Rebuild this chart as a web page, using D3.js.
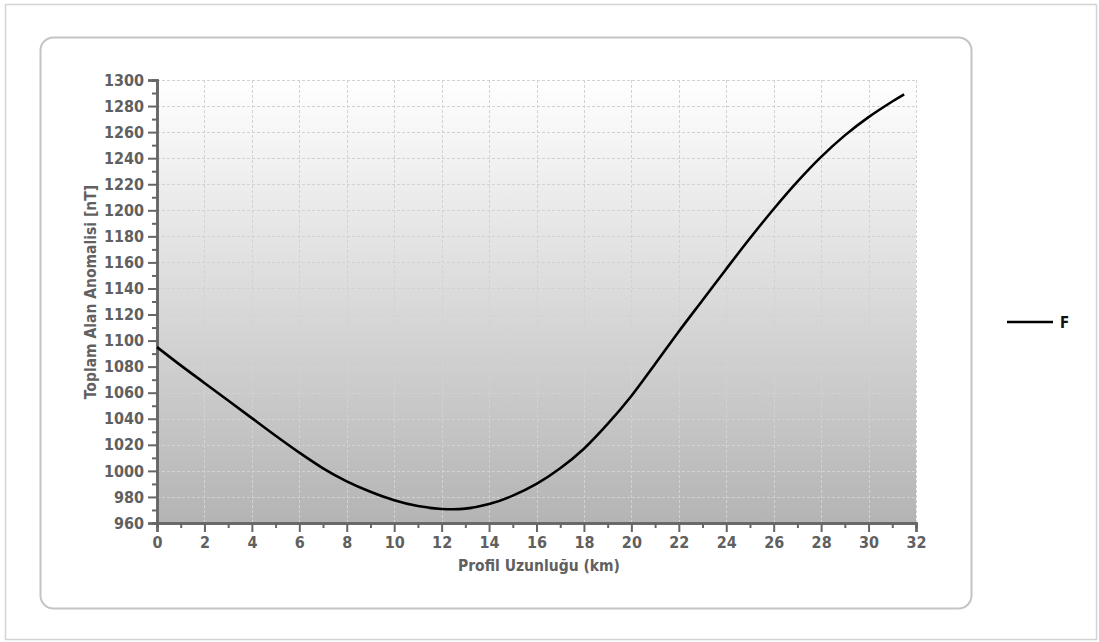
<!DOCTYPE html>
<html>
<head>
<meta charset="utf-8">
<script src="https://cdn.jsdelivr.net/npm/d3@7"></script>
<style>
  body { margin: 0; background: #fff; }
  svg { display: block; }
</style>
</head>
<body>
<svg id="chart" width="1099" height="642"></svg>
<script>
// profile distance (km) and total field anomaly (nT)
var distance = [0, 1, 2, 3, 4, 5, 6, 7, 8, 9, 10, 11, 12, 13, 14, 15, 16,
                17, 18, 19, 20, 21, 22, 23, 24, 25, 26, 27, 28, 29, 30, 31, 31.5];
var anomalyF = [1095, 1081, 1067.5, 1054, 1040.5, 1027, 1014, 1002, 992, 984, 977.5, 973, 970.8, 971, 974.5, 981, 990,
                1002, 1017, 1036, 1057.5, 1082, 1107, 1131, 1155, 1178.5, 1201, 1222, 1241, 1257.5, 1271.5, 1283.5, 1289];
var xTicks = d3.range(0, 33, 2);
var yTicks = d3.range(960, 1301, 20);
var seriesName = "F";
var xTitle = "Profil Uzunluğu (km)";
var yTitle = "Toplam Alan Anomalisi [nT]";

var svg = d3.select("#chart");
var fontFam = "'Liberation Sans Narrow', 'DejaVu Sans Condensed', 'DejaVu Sans', sans-serif";

// outer frame
svg.append("rect")
  .attr("x", 5.5).attr("y", 4.5)
  .attr("width", 1091).attr("height", 635)
  .style("fill", "#fff")
  .style("stroke", "#d4d4d4")
  .style("stroke-width", 1.5);

// rounded panel
svg.append("rect")
  .attr("x", 40.5).attr("y", 37.5)
  .attr("width", 931).attr("height", 571)
  .attr("rx", 13)
  .style("fill", "#fff")
  .style("stroke", "#c4c4c4")
  .style("stroke-width", 2);

var plotLeft = 157, plotRight = 916, plotTop = 80, plotBottom = 523;

var x = d3.scaleLinear().domain([0, 32]).range([plotLeft, plotRight]);
var y = d3.scaleLinear().domain([960, 1300]).range([plotBottom, plotTop]);

// plot background gradient
var defs = svg.append("defs");
var grad = defs.append("linearGradient")
  .attr("id", "plotBg")
  .attr("x1", 0).attr("y1", 0).attr("x2", 0).attr("y2", 1);
grad.append("stop").attr("offset", "0%").attr("stop-color", "#ffffff");
grad.append("stop").attr("offset", "100%").attr("stop-color", "#b4b4b4");

svg.append("rect")
  .attr("x", plotLeft).attr("y", plotTop)
  .attr("width", plotRight - plotLeft).attr("height", plotBottom - plotTop)
  .style("fill", "url(#plotBg)");

// grid
var grid = svg.append("g").attr("class", "grid");
grid.selectAll("line.vg")
  .data(xTicks.slice(1))
  .enter().append("line")
  .attr("class", "vg")
  .attr("x1", function(d) { return Math.round(x(d)) + 0.5; })
  .attr("x2", function(d) { return Math.round(x(d)) + 0.5; })
  .attr("y1", plotTop).attr("y2", plotBottom)
  .style("stroke", "#d2d2d2")
  .style("stroke-dasharray", "3,2");

grid.selectAll("line.hg")
  .data(yTicks.slice(1))
  .enter().append("line")
  .attr("class", "hg")
  .attr("x1", plotLeft).attr("x2", plotRight)
  .attr("y1", function(d) { return Math.round(y(d)) + 0.5; })
  .attr("y2", function(d) { return Math.round(y(d)) + 0.5; })
  .style("stroke", "#d2d2d2")
  .style("stroke-dasharray", "3,2");

// axes
var axisColor = "#666";
var textColor = "#606060";

var yMinor = svg.append("g")
  .attr("transform", "translate(" + plotLeft + ",0)")
  .call(d3.axisLeft(y).tickValues(d3.range(970, 1300, 20)).tickSize(5).tickFormat(""));

var yAxis = svg.append("g")
  .attr("transform", "translate(" + plotLeft + ",0)")
  .call(d3.axisLeft(y).tickValues(yTicks).tickSize(9).tickPadding(4).tickFormat(d3.format("d")));

var xMinor = svg.append("g")
  .attr("transform", "translate(0," + plotBottom + ")")
  .call(d3.axisBottom(x).tickValues(d3.range(1, 32, 2)).tickSize(5).tickFormat(""));

var xAxis = svg.append("g")
  .attr("transform", "translate(0," + plotBottom + ")")
  .call(d3.axisBottom(x).tickValues(xTicks).tickSize(9).tickPadding(5).tickFormat(d3.format("d")));

[yMinor, yAxis, xMinor, xAxis].forEach(function(g) {
  g.select(".domain").style("stroke", axisColor).style("stroke-width", 2.5);
  g.selectAll(".tick line").style("stroke", axisColor).style("stroke-width", 2);
  g.selectAll(".tick text")
    .style("fill", textColor)
    .style("font-family", fontFam)
    .style("font-stretch", "condensed")
    .style("font-weight", "bold")
    .style("font-size", "16px");
});

// axis titles
svg.append("text")
  .attr("x", 539)
  .attr("y", 571)
  .attr("text-anchor", "middle")
  .style("font-family", fontFam)
  .style("font-stretch", "condensed")
  .style("font-weight", "bold")
  .style("font-size", "15.5px")
  .style("fill", textColor)
  .text(xTitle);

svg.append("text")
  .attr("transform", "translate(96,292) rotate(-90)")
  .attr("text-anchor", "middle")
  .style("font-family", fontFam)
  .style("font-stretch", "condensed")
  .style("font-weight", "bold")
  .style("font-size", "15.5px")
  .style("fill", textColor)
  .text(yTitle);

// series line
var line = d3.line()
  .x(function(d, i) { return x(distance[i]); })
  .y(function(d) { return y(d); })
  .curve(d3.curveCatmullRom.alpha(0.5));

svg.append("path")
  .datum(anomalyF)
  .attr("d", line)
  .style("fill", "none")
  .style("stroke", "#000")
  .style("stroke-width", 2.6);

// legend
var legend = svg.append("g").attr("transform", "translate(1007,322)");
legend.append("line")
  .attr("x1", 0).attr("x2", 46)
  .attr("y1", 0).attr("y2", 0)
  .style("stroke", "#000")
  .style("stroke-width", 2.5);
legend.append("text")
  .attr("x", 53).attr("y", 6)
  .style("font-family", fontFam)
  .style("font-weight", "bold")
  .style("font-size", "15px")
  .style("fill", "#111")
  .text(seriesName);
</script>
</body>
</html>
